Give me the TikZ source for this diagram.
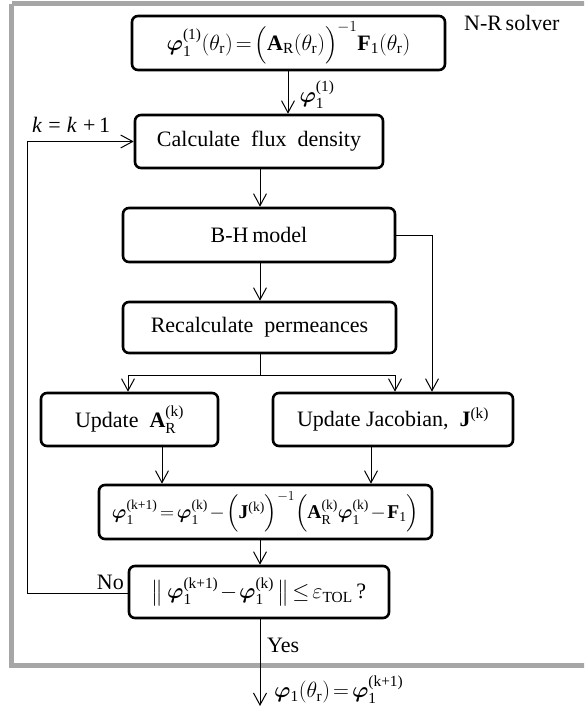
\RequirePackage{fix-cm}
\documentclass[tikz,border=0pt]{standalone}
\usepackage{amsmath}
\usepackage{bm}
\usepackage{fontspec}
\setmainfont{Liberation Serif}
\usetikzlibrary{arrows.meta}

% bold phi vector, upright text and bold upright letters inside math
\newcommand{\vp}{\bm{\varphi}}
\newcommand{\up}[1]{\text{#1}}
\newcommand{\bfl}[1]{\text{\bfseries #1}}
% compact spacing around relations and binary operators
\newcommand{\tightmath}{\medmuskip=1.5mu\thickmuskip=2.5mu}

\begin{document}
\begin{tikzpicture}[x=1pt, y=-1pt,
  font=\fontsize{22}{26}\selectfont\tightmath,
  box/.style={draw, rounded corners=6pt, line width=2.6pt, align=center,
              inner sep=0pt},
  conn/.style={line width=1pt},
  arr/.style={conn, -{Straight Barb[length=12pt, width=13pt, line width=1pt]}},
  lbl/.style={inner sep=1pt}]

\useasboundingbox (0,0) rectangle (584,712);
\clip (0,0) rectangle (584,712);

% solver frame
\draw[line width=5pt, color={rgb,255:red,166;green,166;blue,166}]
  (11.5,3.5) -- (600,3.5) (11.5,3.5) -- (11.5,665.5) -- (600,665.5);
\node[lbl, anchor=west] (title) at (463,23) {N-R\,solver};

% process boxes
\node[box, minimum width=313pt, minimum height=54pt] (init) at (288.5,43)
  {$\vp_{\up{1}}^{\up{(1)}}(\theta_{\up{r}})=\Big(\bfl{A}_{\up{R}}(\theta_{\up{r}})\Big)^{-1}\bfl{F}_{\up{1}}(\theta_{\up{r}})$};
\node[box, minimum width=248pt, minimum height=53pt] (flux) at (259,141.5)
  {Calculate\ \ flux\ \ density};
\node[box, minimum width=272pt, minimum height=54pt] (bh) at (259,235)
  {B-H\,model};
\node[box, minimum width=273pt, minimum height=51pt] (perm) at (259.5,327.5)
  {Recalculate\ \ permeances};
\node[box, minimum width=177pt, minimum height=53pt] (upa) at (129.5,419.5)
  {Update\ \ $\bfl{A}_{\up{R}}^{\up{(k)}}$};
\node[box, minimum width=240pt, minimum height=53pt] (upj) at (393,419.5)
  {Update Jacobian,\ \ $\bfl{J}^{\up{(k)}}$};
\node[box, minimum width=333pt, minimum height=54pt,
      font=\fontsize{19.5}{24}\selectfont\tightmath] (iter) at (265.5,512)
  {$\vp_{\up{1}}^{\up{(k+1)}}=\vp_{\up{1}}^{\up{(k)}}-\Big(\bfl{J}^{\up{(k)}}\Big)^{-1}\Big(\bfl{A}_{\up{R}}^{\up{(k)}}\vp_{\up{1}}^{\up{(k)}}-\bfl{F}_{\up{1}}\Big)$};
\node[box, minimum width=260pt, minimum height=52pt] (check) at (259,592)
  {$\big\|\,\vp_{\up{1}}^{\up{(k+1)}}-\vp_{\up{1}}^{\up{(k)}}\,\big\|\le\varepsilon_{\up{TOL}}$\,?};

% junction points
\coordinate (split) at (260,375);
\coordinate (ret) at (27,593);
\coordinate (out) at (260,706);

% connectors
\draw[arr] (init.south -| 288,0) -- node[lbl, anchor=west, xshift=10pt, yshift=-2pt]
  {$\vp_{\up{1}}^{\up{(1)}}$} (flux.north -| 288,0);
\draw[arr] (flux.south -| 260,0) -- (bh.north -| 260,0);
\draw[arr] (bh.south -| 260,0) -- (perm.north -| 260,0);
\draw[conn] (perm.south -| split) -- (split);
\draw[arr] (split) -| (upa.north -| 128,0);
\draw[arr] (split) -| (upj.north -| 395,0);
\draw[arr] (bh.east) -| (upj.north -| 432,0);
\draw[arr] (upa.south -| 162,0) -- (iter.north -| 162,0);
\draw[arr] (upj.south -| 371,0) -- (iter.north -| 371,0);
\draw[arr] (iter.south -| 260,0) -- (check.north -| 260,0);
\draw[arr] (check.west |- ret) -- (ret) |- (flux.west);
\draw[arr] (check.south -| out) -- (out);

% branch labels
\node[lbl, anchor=south west] (kinc) at (31,134)
  {\textit{k}\;=\;\textit{k}\;+\,1};
\node[lbl, anchor=south east] (no) at (125,591) {No};
\node[lbl, anchor=west] (yes) at (266,645) {Yes};
\node[lbl, anchor=west] (res) at (273,690)
  {$\vp_{\up{1}}(\theta_{\up{r}})=\vp_{\up{1}}^{\up{(k+1)}}$};
\end{tikzpicture}
\end{document}
